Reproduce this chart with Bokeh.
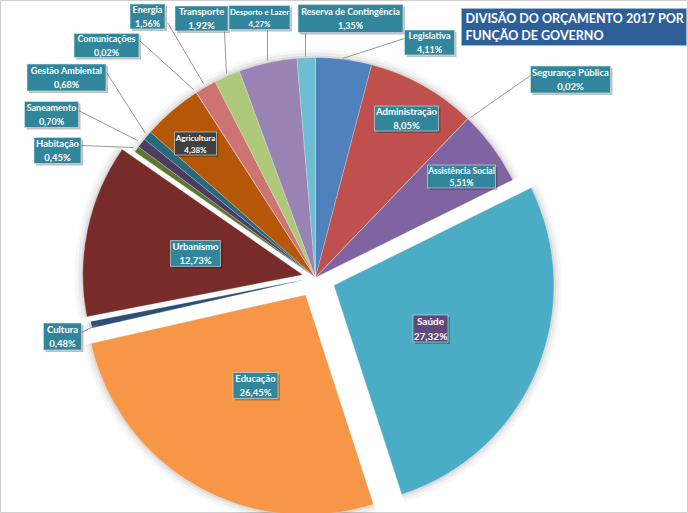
import numpy as np
from bokeh.plotting import figure
from bokeh.models import Range1d, ColumnDataSource
from bokeh.core.properties import value
from bokeh.embed import file_html
from bokeh.resources import INLINE

# ---------------- data ----------------
categories = ["Legislativa", "Administração", "Segurança Pública", "Assistência Social",
              "Saúde", "Educação", "Cultura", "Urbanismo", "Habitação", "Saneamento",
              "Gestão Ambiental", "Agricultura", "Comunicações", "Energia", "Transporte",
              "Desporto e Lazer", "Reserva de Contingência"]
values = [4.11, 8.05, 0.02, 5.51, 27.32, 26.45, 0.48, 12.73, 0.45, 0.70,
          0.68, 4.38, 0.02, 1.56, 1.92, 4.27, 1.35]
title_lines = ["DIVISÃO DO ORÇAMENTO 2017 POR", "FUNÇÃO DE GOVERNO"]

# ---------------- style / layout ----------------
colors = ["#4F81BD", "#C0504D", "#9BBB59", "#8064A2", "#4BACC6", "#F79646", "#2C4D75",
          "#772C2A", "#5F7530", "#4D3B62", "#276A7C", "#B65708", "#729ACA", "#CD7371",
          "#AFC97A", "#9983B5", "#6FBDD1"]
explode = [0, 0, 0, 0, 20, 20, 9, 13, 0, 0, 0, 0, 0, 0, 0, 0, 0]
W, H = 688, 513
def Y(v):
    return H - v

CX, CY, R = 315, Y(277), 220

# label boxes: center x, center y (image px), w, h, fill, font size
boxes = {
    "Legislativa": (429, 42, 50, 25, "#31869B", "9px"),
    "Administração": (406, 118, 64, 25, "#31869B", "9.5px"),
    "Segurança Pública": (570, 79, 80, 27, "#31869B", "9.5px"),
    "Assistência Social": (461, 176, 68, 23, "#31869B", "8.5px"),
    "Saúde": (430, 328, 35, 27, "#5F497A", "10px"),
    "Educação": (255, 385, 45, 26, "#31869B", "9.5px"),
    "Cultura": (62, 336, 38, 27, "#31869B", "9.5px"),
    "Urbanismo": (195, 253, 50, 26, "#31869B", "9.5px"),
    "Habitação": (57, 150, 47, 26, "#31869B", "9.5px"),
    "Saneamento": (51, 114, 54, 26, "#31869B", "9px"),
    "Gestão Ambiental": (66, 77, 79, 27, "#31869B", "9px"),
    "Agricultura": (195, 143, 42, 23, "#404040", "8px"),
    "Comunicações": (106, 45, 65, 24, "#31869B", "9px"),
    "Energia": (147, 16, 35, 25, "#31869B", "9px"),
    "Transporte": (201, 18, 53, 25, "#31869B", "9.5px"),
    "Desporto e Lazer": (259, 17, 61, 24, "#31869B", "7.8px"),
    "Reserva de Contingência": (350, 18, 105, 28, "#31869B", "9px"),
}
leaders = [
    ((167, 22), (203, 83)),   # Energia
    ((224, 31), (226, 73)),   # Transporte
    ((267, 30), (267, 60)),   # Desporto
    ((305, 33), (305, 56)),   # Reserva
    ((404, 38), (342, 58)),   # Legislativa
    ((530, 75), (470, 117)),  # Segurança Pública
    ((139, 40), (193, 89)),   # Comunicações
    ((106, 72), (145, 133)),  # Gestão Ambiental
    ((78, 110), (137, 140)),  # Saneamento
    ((80, 145), (133, 147)),  # Habitação
    ((81, 332), (97, 324)),   # Cultura
]

# ---------------- geometry from data ----------------
vals = np.array(values, dtype=float)
frac = vals / vals.sum()
ends = np.cumsum(frac)
starts = ends - frac
start_ang = np.pi / 2 - 2 * np.pi * starts
end_ang = np.pi / 2 - 2 * np.pi * ends
mid_ang = (start_ang + end_ang) / 2
ex = np.array(explode, dtype=float)
xs = CX + ex * np.cos(mid_ang)
ys = CY + ex * np.sin(mid_ang)

src = ColumnDataSource(dict(x=xs, y=ys, s=start_ang, e=end_ang, c=colors, cat=categories))

p = figure(width=W, height=H, x_range=Range1d(0, W), y_range=Range1d(0, H),
           output_backend="svg", toolbar_location=None, min_border=0)
p.axis.visible = False
p.grid.visible = False
p.outline_line_color = "#cfcfcf"
p.background_fill_color = "white"

# soft shadow / glow behind slices
for extra, a in [(8, 0.03), (5, 0.045), (2, 0.07)]:
    p.wedge(x="x", y="y", radius=R + extra, start_angle="s", end_angle="e",
            direction="clock", source=src, fill_color="#000000", fill_alpha=a, line_color=None)

p.wedge(x="x", y="y", radius=R, start_angle="s", end_angle="e", direction="clock",
        source=src, fill_color="c", line_color="white", line_width=0.4, line_alpha=0.6)

# leader lines
p.segment(x0=[a[0] for a, b in leaders], y0=[Y(a[1]) for a, b in leaders],
          x1=[b[0] for a, b in leaders], y1=[Y(b[1]) for a, b in leaders],
          line_color="#7f7f7f", line_width=0.8)

# label boxes
def fmt(v):
    return f"{v:.2f}".replace(".", ",") + "%"

bx, by, bw, bh, bc, fs, txt = [], [], [], [], [], [], []
for cat, v in zip(categories, values):
    cx, cy, w, h, c, f = boxes[cat]
    bx.append(cx); by.append(Y(cy)); bw.append(w); bh.append(h); bc.append(c); fs.append(f)
    txt.append(f"{cat}\n{fmt(v)}")

p.rect(x=[x + 2 for x in bx], y=[y - 2 for y in by], width=bw, height=bh,
       fill_color="#000000", fill_alpha=0.25, line_color=None)
p.rect(x=bx, y=by, width=bw, height=bh, fill_color=bc, line_color="#d9e6ea", line_width=0.6)
lsrc = ColumnDataSource(dict(x=bx, y=by, t=txt, fs=fs))
p.text(x="x", y="y", text="t", source=lsrc, text_color="white", text_font_size="fs",
       text_font=value("Lato"), text_font_style="bold", text_align="center",
       text_baseline="middle", text_line_height=1.2)

# title box
p.rect(x=[(461 + 686) / 2], y=[Y(26.5)], width=[686 - 461], height=[37],
       fill_color="#2F5F98", line_color="#a6b8d0", line_width=0.8)
p.text(x=[465, 465], y=[Y(18), Y(35)], text=title_lines, text_color="white",
       text_font_size="12.5px", text_font=value("Lato"), text_font_style="bold",
       text_baseline="middle", text_align="left")

open("out.html", "w").write(file_html(p, INLINE))
